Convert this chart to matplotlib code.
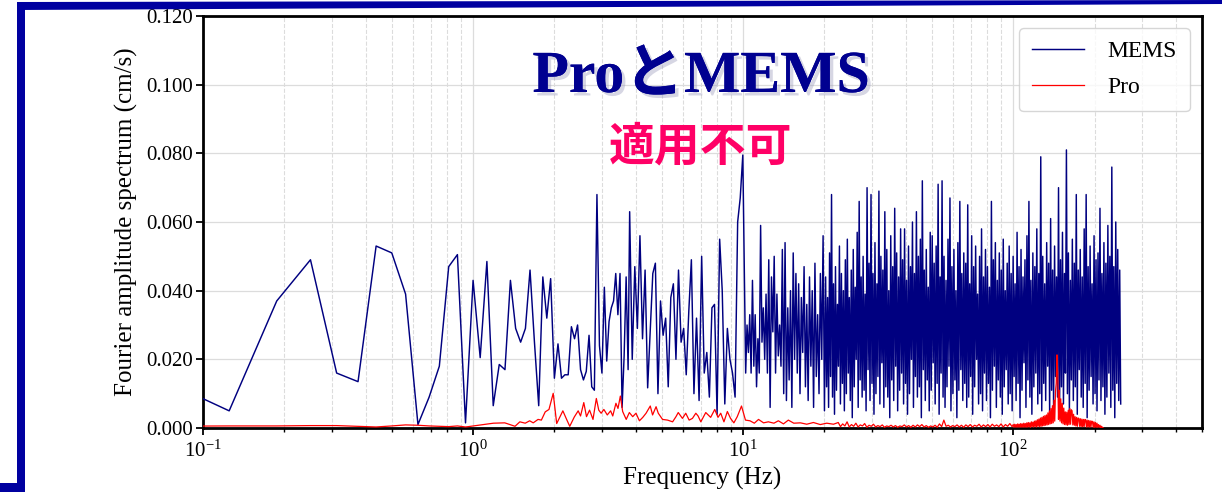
import numpy as np
import matplotlib
matplotlib.use("Agg")
import matplotlib.pyplot as plt
from matplotlib.patches import Polygon, Rectangle
import matplotlib.patheffects as pe
from matplotlib.ticker import FormatStrFormatter

plt.rcParams['font.family'] = ['Liberation Serif', 'Noto Sans CJK JP', 'DejaVu Sans']
plt.rcParams['mathtext.fontset'] = 'custom'
plt.rcParams['mathtext.rm'] = 'Liberation Serif'
plt.rcParams['mathtext.it'] = 'Liberation Serif:italic'
plt.rcParams['mathtext.bf'] = 'Liberation Serif:bold'

# ---------------- data (amplitudes in 1e-3 cm/s) ----------------
df = 0.0625
# MEMS: resolved low-frequency FFT bins k*df, k=1..60
mems_grid_amp = [16, 5, 37, 49, 16, 13.5, 53, 51, 39, 1, 9, 18, 47, 50.5, 1.5, 43, 20.5, 48.5, 6.5, 18.5,
                 17, 43, 29, 25, 29, 46, 25, 6.5, 44, 32, 43.5, 14.5, 24.5, 14.5, 15.5, 15.5, 29.5, 26, 30, 17,
                 14, 16.5, 27, 12, 11, 68, 24, 16, 41, 19.5, 31, 35, 37, 45, 33, 45, 6, 21, 44, 17]
# MEMS 3.8-10 Hz readings
mems_b1 = [63, 20, 47, 29, 56, 26, 46, 11.7, 28, 45, 48, 10, 37, 27, 32, 12, 38, 42, 20, 46,
           25, 29, 15.5, 34, 49, 10, 32, 8, 50, 16, 22, 9, 35, 36, 4, 55, 40, 7, 29, 20,
           16, 9, 60, 67, 79.5]
# MEMS 10-20 Hz readings
mems_b2 = [45, 16, 30, 22, 33, 16, 43, 18, 33, 12, 26, 16, 59, 25, 35, 20, 39, 16, 49, 6,
           44, 28, 50, 16, 39, 21, 30, 18, 52, 10, 54, 8, 35, 14, 40, 6, 51, 20, 45, 16,
           42, 10, 38, 22, 47, 12, 36, 8, 44, 18, 40, 6, 48, 15, 33, 10, 45, 20, 56, 5]
# MEMS 20-250 Hz: successive peaks and troughs
mems_hi = [44, 38, 51, 68, 42, 47, 36, 53, 45, 40, 49, 55, 38, 46, 52, 41, 57, 66, 44, 50,
           39, 70, 48, 68, 45, 54, 42, 69, 50, 46, 63, 52, 40, 56, 47, 64, 51, 44, 58, 49,
           58, 43, 53, 47, 60, 45, 63, 50, 55, 72, 46, 52, 41, 57, 56, 48, 53, 71, 44, 72,
           50, 43, 55, 67, 47, 52, 40, 54, 66, 45, 51, 48, 65, 42, 56, 47, 53, 39, 50, 58,
           44, 52, 47, 41, 66, 49, 54, 43, 51, 46, 55, 40, 48, 53, 45, 50, 42, 57, 47, 52,
           44, 49, 56, 66, 43, 51, 47, 58, 45, 79, 50, 42, 54, 48, 61, 46, 53, 44, 70, 49,
           57, 45, 81, 51, 43, 55, 48, 68, 46, 52, 44, 58, 68, 47, 53, 42, 56, 49, 51, 64,
           45, 54, 48, 59, 50, 76, 47, 60, 52, 46]
mems_lo = [12, 6, 15, 9, 4, 11, 18, 7, 13, 5, 10, 16, 8, 3, 12, 20, 6, 14, 9, 11,
           5, 17, 8, 13, 4, 10, 15, 7, 19, 6, 12, 9, 3, 14, 8, 18, 5, 11, 16, 7,
           13, 4, 10, 20, 6, 15, 9, 12, 3, 17, 8, 14, 5, 11, 19, 7, 13, 4, 16, 9,
           6, 12, 18, 5, 10, 14, 3, 11, 17, 8, 13, 6, 9, 15, 4, 12, 20, 7, 10, 5,
           16, 8, 13, 3, 11, 18, 6, 14, 9, 4, 12, 17, 7, 10, 5, 15, 8, 13, 3, 11,
           19, 6, 14, 9, 4, 12, 16, 7, 10, 5, 13, 8, 18, 4, 11, 6, 15, 9, 3, 12,
           7, 16, 10, 5, 14, 8, 12, 4, 17, 9, 6, 13, 3, 11, 15, 7, 10, 5, 14, 8,
           12, 4, 9, 16, 6, 11, 3, 13, 8, 7]

# Pro: low-frequency bins k*df, k=1..15
pro_grid_amp = [0.5, 0.6, 0.6, 0.7, 0.7, 0.5, 0.3, 0.6, 0.9, 0.8, 0.6, 0.5, 0.4, 0.6, 0.3]
pro_f1 = [0.96, 1.19, 1.31, 1.43, 1.49, 1.56, 1.62, 1.67, 1.74, 1.79, 1.85, 1.91, 1.98, 2.04, 2.15,
          2.22, 2.28, 2.37, 2.45, 2.50, 2.57, 2.63, 2.70, 2.78, 2.86, 2.92, 2.98, 3.05, 3.14, 3.23,
          3.29, 3.38, 3.44, 3.51, 3.58, 3.69, 3.79, 3.90, 4.01, 4.13, 4.25, 4.37, 4.53, 4.62, 4.76,
          4.85, 5.03, 5.25, 5.48, 5.64, 5.75, 5.96, 6.13, 6.31, 6.49, 6.68, 6.81, 6.97, 7.27, 7.58,
          7.85, 8.07, 8.26, 8.49, 8.74, 8.98, 9.24, 9.51, 9.86, 10.2, 10.6, 11.0, 11.4, 11.9, 12.4,
          13.0, 13.5, 14.1, 14.7, 15.4, 16.3, 17.2, 18.2, 19.3, 20.4, 21.6]
pro_a1 = [0.4, 1.4, 1.5, 0.5, 1.8, 1.4, 2.1, 1.5, 2.5, 2.3, 4.7, 5.4, 10.1, 1.3, 5.0,
          2.5, 0.5, 3.2, 5.0, 3.5, 7.4, 3.3, 5.2, 2.5, 8.6, 5.2, 4.3, 5.4, 3.8, 5.0,
          3.5, 7.2, 5.7, 9.3, 4.8, 2.5, 4.5, 3.3, 4.3, 2.1, 3.1, 4.3, 6.4, 3.8, 6.2,
          4.3, 2.5, 2.3, 1.8, 3.3, 4.5, 2.8, 4.3, 2.3, 2.8, 4.3, 3.5, 1.8, 4.5, 3.1,
          5.4, 3.1, 4.3, 1.8, 4.8, 2.8, 1.5, 3.3, 6.4, 2.3, 2.1, 1.4, 2.5, 1.5, 1.8,
          1.4, 2.1, 1.2, 2.3, 1.4, 1.5, 1.1, 1.6, 1.0, 1.4, 1.1]
# Pro 22-100 Hz readings
pro_a2 = [1.6, 0.4, 1.2, 0.6, 1.8, 0.3, 1.0, 0.5, 1.4, 0.3, 0.9, 0.6, 1.3, 0.2, 0.8, 0.5, 1.1, 0.3, 0.7, 0.4,
          0.9, 0.2, 0.6, 0.4, 0.8, 0.3, 0.7, 0.2, 0.6, 0.4, 0.9, 0.3, 0.7, 0.2, 0.8, 0.3, 0.9, 0.4, 1.0, 0.3,
          0.7, 0.2, 0.6, 0.3, 0.8, 0.2, 1.2, 0.4, 2.3, 0.5, 0.8, 0.3, 0.7, 0.4, 0.9, 0.3, 0.8, 0.2, 0.9, 0.4,
          1.0, 0.3, 0.8, 0.5, 1.1, 0.3, 0.9, 0.4, 1.0, 0.3, 1.1, 0.5, 0.9, 0.4, 1.2, 0.3, 1.0, 0.5, 1.3, 0.4]
# Pro 100-215 Hz readings (resonance near 145 Hz)
pro_a3 = [1.0, 0.2, 1.1, 0.3, 1.0, 0.2, 1.2, 0.3, 1.1, 0.2,
          1.3, 0.3, 1.2, 0.2, 1.4, 0.3, 1.3, 0.2, 1.5, 0.3,
          1.6, 0.3, 1.5, 0.2, 1.8, 0.4, 1.7, 0.3, 2.0, 0.4,
          2.1, 0.3, 2.4, 0.5, 2.6, 0.4, 2.9, 0.5, 3.1, 0.6,
          3.4, 0.7, 3.6, 0.8, 3.8, 0.9, 4.4, 1.0, 5.0, 1.2,
          5.7, 1.3, 6.5, 1.5, 8.1, 2.0, 10.5, 13.0, 21.3, 16.0,
          2.5, 11.0, 2.0, 8.5, 1.5, 7.2, 1.2, 5.8, 1.0, 4.7,
          0.9, 4.6, 0.8, 5.2, 1.0, 5.7, 1.1, 5.3, 5.0, 0.9,
          4.0, 0.8, 3.3, 0.6, 3.1, 0.5, 2.9, 2.8, 0.5, 2.7,
          0.4, 2.6, 0.4, 2.5, 0.4, 2.5, 2.4, 0.3, 2.3, 0.3,
          2.2, 0.3, 2.1, 0.3, 2.0, 1.9, 0.2, 1.8, 0.2, 1.6,
          0.2, 1.4, 0.2, 1.0, 0.2, 0.8, 0.1, 0.5, 0.2, 0.1]

y_ticks = [0.000, 0.020, 0.040, 0.060, 0.080, 0.100, 0.120]

# ---------------- assemble series ----------------
mems_f = np.concatenate([np.arange(1, len(mems_grid_amp) + 1) * df,
                         np.geomspace(3.80, 9.97, len(mems_b1)),
                         np.geomspace(10.1, 20.0, len(mems_b2)),
                         np.geomspace(20.2, 250.0, 2 * len(mems_hi))])
mems_a = np.concatenate([mems_grid_amp, mems_b1, mems_b2,
                         np.column_stack([mems_hi, mems_lo]).ravel()]) * 1e-3

pro_f = np.concatenate([np.arange(1, len(pro_grid_amp) + 1) * df,
                        pro_f1,
                        np.geomspace(22.5, 99.0, len(pro_a2)),
                        np.geomspace(100.0, 215.0, len(pro_a3))])
pro_a = np.concatenate([pro_grid_amp, pro_a1, pro_a2, pro_a3]) * 1e-3

# ---------------- figure ----------------
W, H = 1222, 495
fig = plt.figure(figsize=(W / 100, H / 100), dpi=100)
ax = fig.add_axes([203 / W, 1 - 428 / H, (1202 - 203) / W, (428 - 16) / H])

ax.plot(mems_f, mems_a, color='#000080', lw=1.05, label='MEMS', zorder=3)
ax.plot(pro_f, pro_a, color='#ff0000', lw=0.9, label='Pro', zorder=4)

ax.set_xscale('log')
ax.set_xlim(0.1, 500)
ax.set_ylim(0, 0.12)
ax.set_yticks(y_ticks)
ax.yaxis.set_major_formatter(FormatStrFormatter('%.3f'))

ax.grid(True, which='major', color='#dcdcdc', lw=0.9, ls='-', zorder=0)
ax.grid(True, which='minor', axis='x', color='#dcdcdc', lw=0.8, ls='--', zorder=0)
ax.set_axisbelow(True)

for s in ax.spines.values():
    s.set_linewidth(2.0)
    s.set_color('black')
ax.tick_params(axis='both', which='major', direction='out', length=5, width=1.3,
               labelsize=15, pad=2, colors='black')
ax.tick_params(axis='x', which='minor', direction='out', length=3, width=1.0)
ax.tick_params(axis='x', which='major', pad=4)

ax.set_xlabel('Frequency (Hz)', fontsize=18, labelpad=4)
ax.set_ylabel('Fourier amplitude spectrum (cm/s)', fontsize=18, labelpad=6)

leg = ax.legend(loc='upper right', fontsize=17, frameon=True, fancybox=True,
                handlelength=2.2, borderpad=0.55, labelspacing=0.62, handletextpad=1.0,
                borderaxespad=0.5)
leg.get_frame().set_edgecolor('#cccccc')
leg.get_frame().set_linewidth(1.0)
leg.set_zorder(10)

# ---------------- overlay texts ----------------
fig.text(701 / W, 1 - 92 / H, 'ProとMEMS', ha='center', va='baseline',
         fontsize=43, fontweight='bold', color='#000090',
         family=['Liberation Serif', 'Noto Sans CJK JP'],
         path_effects=[pe.withSimplePatchShadow(offset=(2.5, -2.5), shadow_rgbFace='#9999bb', alpha=0.4),
                       pe.Normal()], zorder=20)
fig.text(701 / W, 1 - 147 / H, '適用不可', ha='center', va='center',
         fontsize=33, fontweight='bold', color='#ff0066',
         family=['Noto Sans CJK JP', 'DejaVu Sans'], zorder=20)

# ---------------- slide frame decoration ----------------
navy = '#0000a0'
fig.add_artist(Polygon([(17 / W, 1 - 2 / H), (1.0, 1.0), (1.0, 1 - 4 / H), (17 / W, 1 - 10 / H)],
                       closed=True, transform=fig.transFigure, facecolor=navy, edgecolor='none'))
fig.add_artist(Rectangle((17 / W, 1 - 492 / H), 8 / W, 490 / H, transform=fig.transFigure,
                         facecolor=navy, edgecolor='none'))
fig.add_artist(Rectangle((0, 1 - 492 / H), 25 / W, 9 / H, transform=fig.transFigure,
                         facecolor=navy, edgecolor='none'))

fig.savefig('out.png', dpi=100)
